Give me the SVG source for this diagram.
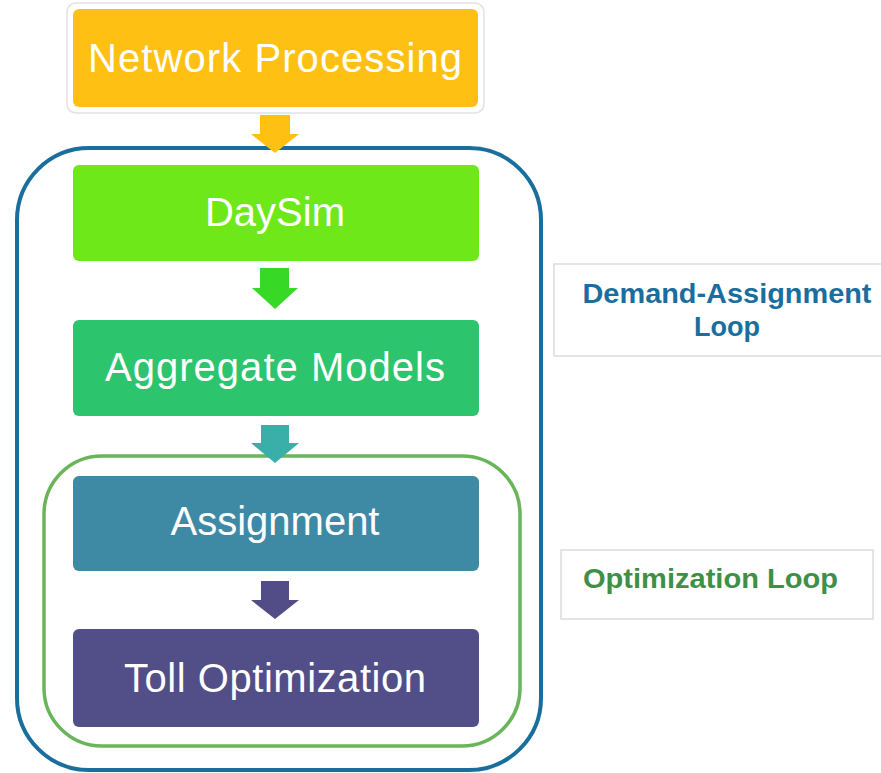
<svg xmlns="http://www.w3.org/2000/svg" width="881" height="773" viewBox="0 0 881 773">
<style>
.box{stroke:none}
.t{font-family:"Liberation Sans",Arial,sans-serif;font-size:40px;fill:#ffffff;text-anchor:middle}
.lbl{font-family:"Liberation Sans",Arial,sans-serif;font-size:27px;font-weight:bold}
.lblbox{fill:#ffffff;stroke:#dcdcdc;stroke-width:1.5}
</style>
<rect width="881" height="773" fill="#ffffff"/>
<g id="loops">
<rect id="demand-loop" x="17" y="148" width="524" height="622" rx="72" fill="none" stroke="#1a6e9e" stroke-width="4"/>
<rect id="optimization-loop" x="44" y="456" width="476" height="290" rx="58" fill="none" stroke="#6ab55a" stroke-width="3.5"/>
</g>
<g id="network-processing">
<rect x="67" y="3" width="417" height="110" rx="9" fill="#ffffff" stroke="#e2e2e2" stroke-width="1.5"/>
<rect class="box" x="73" y="9" width="405" height="98" rx="6" fill="#fec113"/>
<text class="t" x="275" y="72" textLength="374" lengthAdjust="spacing">Network Processing</text>
</g>
<g id="daysim">
<rect class="box" x="73" y="165" width="406" height="96" rx="6" fill="#6fe81a"/>
<text class="t" x="275" y="226">DaySim</text>
</g>
<g id="aggregate-models">
<rect class="box" x="73" y="320" width="406" height="96" rx="6" fill="#2dc46e"/>
<text class="t" x="275" y="381" textLength="340" lengthAdjust="spacing">Aggregate Models</text>
</g>
<g id="assignment">
<rect class="box" x="73" y="476" width="406" height="95" rx="6" fill="#3e89a3"/>
<text class="t" x="275" y="535">Assignment</text>
</g>
<g id="toll-optimization">
<rect class="box" x="73" y="629" width="406" height="98" rx="6" fill="#524e87"/>
<text class="t" x="275" y="692" textLength="302" lengthAdjust="spacing">Toll Optimization</text>
</g>
<g id="connectors">
<polygon points="260,115 290,115 290,134 299,134 275,153 251,134 260,134" fill="#fec113"/>
<polygon points="260,268 289,268 289,288 298,288 275,309 252,288 260,288" fill="#38d826"/>
<polygon points="261,425 289,425 289,443 299,443 275,463 251,443 261,443" fill="#3aafa9"/>
<polygon points="261,581 289,581 289,600 299,600 275,619 251,600 261,600" fill="#524c87"/>
</g>
<g id="label-demand">
<rect class="lblbox" x="554" y="264" width="335" height="92"/>
<text class="lbl" x="727" y="303" fill="#1a6e9e" text-anchor="middle" textLength="289" lengthAdjust="spacingAndGlyphs">Demand-Assignment</text>
<text class="lbl" x="727" y="336" fill="#1a6e9e" text-anchor="middle">Loop</text>
</g>
<g id="label-optimization">
<rect class="lblbox" x="561" y="550" width="312" height="69"/>
<text class="lbl" x="583" y="588" fill="#3f8f46" textLength="255" lengthAdjust="spacingAndGlyphs">Optimization Loop</text>
</g>
</svg>
